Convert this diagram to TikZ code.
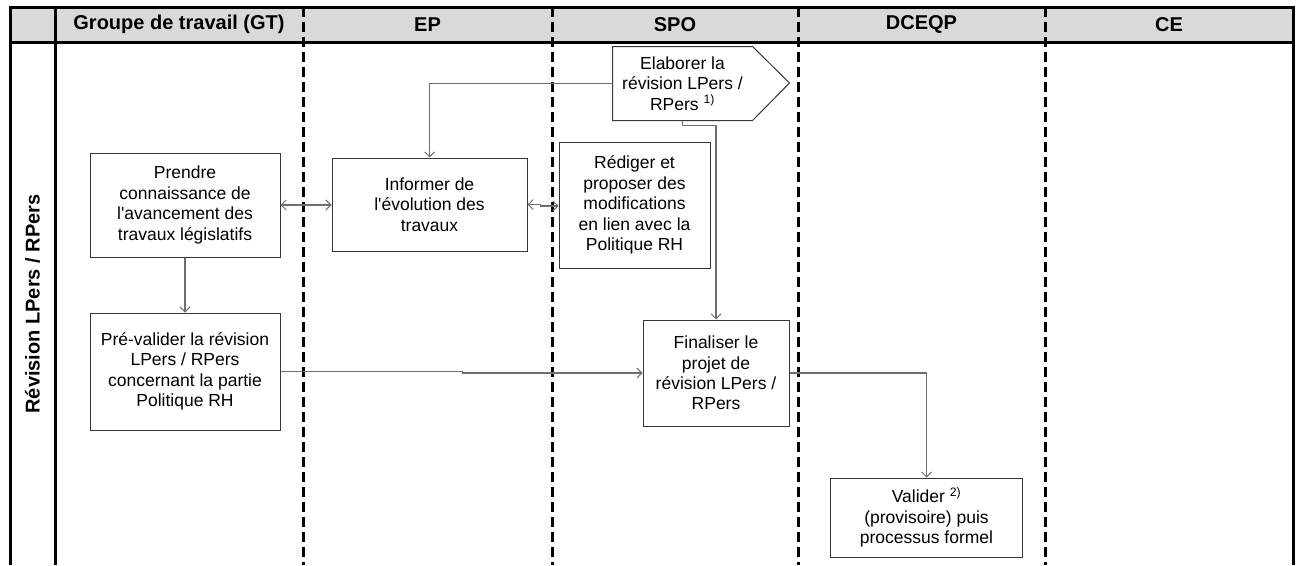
\documentclass[tikz,border=0pt]{standalone}
\usepackage{fontspec}
\setmainfont{Liberation Sans}[Ligatures=TeXOff]
\usetikzlibrary{arrows.meta}
\definecolor{headgray}{RGB}{217,217,217}
\definecolor{boxgray}{RGB}{55,55,55}
\definecolor{linegray}{RGB}{110,110,110}
\tikzset{barb/.tip={Straight Barb[length=5pt,width=10pt,line width=0.9pt]}}
\begin{document}
\begin{tikzpicture}[x=1pt,y=-1pt,
  frame/.style={line width=3pt, black},
  sep/.style={line width=3pt, black, dash pattern=on 10pt off 5pt},
  head/.style={font=\fontsize{20}{24}\selectfont\bfseries, inner sep=0pt},
  task/.style={draw=boxgray, line width=1pt, fill=white, align=center,
    font=\fontsize{17.5}{20.4}\selectfont, inner sep=0pt},
  flow/.style={draw=linegray, line width=1.2pt, -{barb}},
  both/.style={draw=linegray, line width=1.2pt, {barb}-{barb}},
]
\useasboundingbox (0,0) rectangle (1300,565);

% header band
\fill[headgray] (10,7) rectangle (1293,42);

% lane separators
\foreach \xx in {303,552,798,1045} \draw[sep] (\xx,7) -- (\xx,565);
\draw[frame] (10,7) -- (10,565);
\draw[frame] (55,7) -- (55,565);
\draw[frame] (1293,7) -- (1293,565);
\draw[frame] (8.5,7) -- (1294.5,7);
\draw[frame] (8.5,42) -- (1294.5,42);

% column headings
\node[head] (hgt)   at (179,24.5)   {Groupe de travail (GT)};
\node[head] (hep)   at (427.5,24.5) {EP};
\node[head] (hspo)  at (675,24.5)   {SPO};
\node[head] (hdce)  at (921.5,24.5) {DCEQP};
\node[head] (hce)   at (1169,24.5)  {CE};
\node[head, rotate=90] (lane) at (32.5,304) {Révision LPers / RPers};

% tasks
\node[task, minimum width=190, minimum height=104] (b1) at (185,205)
  {Prendre\\connaissance de\\l'avancement des\\travaux législatifs};
\node[task, minimum width=195, minimum height=93] (b2) at (429.5,204.5)
  {Informer de\\l'évolution des\\travaux};
\node[task, minimum width=151, minimum height=126] (b3) at (634.5,205)
  {Rédiger et\\proposer des\\modifications\\en lien avec la\\Politique RH};
\node[task, draw=none, fill=none, minimum width=139, minimum height=73] (elab) at (682.5,83.5)
  {Elaborer la\\révision LPers /\\RPers \textsuperscript{1)}};
\draw[boxgray, line width=1pt, line join=miter]
  (elab.north west) -- (elab.north east) -- ++(37,36.5) -- (elab.south east)
  -- (elab.south west) -- cycle;
\node[task, minimum width=190, minimum height=117] (b5) at (185,371.5)
  {Pré-valider la révision\\LPers / RPers\\concernant la partie\\Politique RH};
\node[task, minimum width=146, minimum height=106] (b6) at (716,373)
  {Finaliser le\\projet de\\révision LPers /\\RPers};
\node[task, minimum width=192, minimum height=79] (b7) at (926.5,517.5)
  {Valider \textsuperscript{2)}\\(provisoire) puis\\processus formel};

% flows
\draw[flow] (elab.west) -| (b2.north);
\draw[flow] (elab.south) -- ++(0,5) -| (b6.north);
\draw[both] (b1.east) -- (b1.east -| b2.west);
\draw[both] (b2.east) -- ++(13,0) -- ++(0,1.5) -- (b3.west |- 0,206);
\draw[flow] (b1.south) -- (b5.north);
\draw[flow] (b5.east) -- ++(182,0) -- ++(0,1.5) -- (b6.west);
\draw[flow] (b6.east) -| (b7.north);
\end{tikzpicture}
\end{document}
